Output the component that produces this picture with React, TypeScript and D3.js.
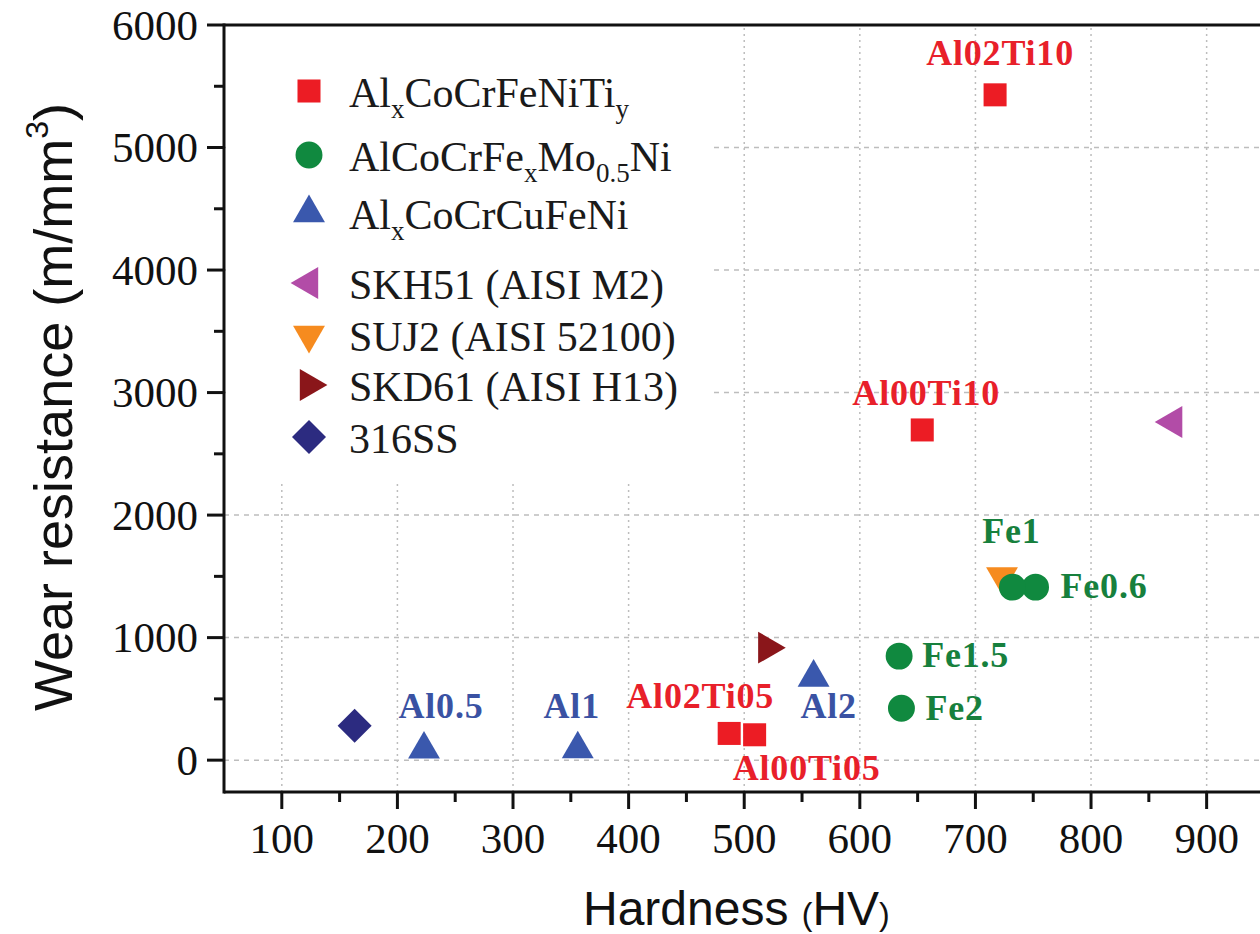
import React from 'react';
import * as d3 from 'd3';

// canvas
const width = 1260;
const height = 934;

// plot frame
const plotLeft = 224;
const plotRight = 1276; // runs off the right edge like the original crop
const plotTop = 25;
const plotBottom = 792;

// fonts
const serif = '"Liberation Serif", "Times New Roman", serif';
const sans = '"Liberation Sans", Arial, sans-serif';

// axis ticks
const xTicks = [100, 200, 300, 400, 500, 600, 700, 800, 900];
const xMinorTicks = [150, 250, 350, 450, 550, 650, 750, 850, 950];
const yTicks = [0, 1000, 2000, 3000, 4000, 5000, 6000];
const yMinorTicks = [500, 1500, 2500, 3500, 4500, 5500];

// AlxCoCrFeNiTiy
const tiyNames = ['Al02Ti10', 'Al00Ti10', 'Al02Ti05', 'Al00Ti05'];
const tiyHardness = [717, 654, 487, 509];
const tiyWear = [5430, 2695, 218, 207];

// AlCoCrFexMo0.5Ni
const feNames = ['Fe0.6', 'Fe1', 'Fe1.5', 'Fe2'];
const feHardness = [752, 732, 634, 636];
const feWear = [1412, 1412, 849, 424];

// AlxCoCrCuFeNi
const cuNames = ['Al0.5', 'Al1', 'Al2'];
const cuHardness = [223, 356, 560];
const cuWear = [88, 90, 675];

// reference steels
const skh51Hardness = [871];
const skh51Wear = [2760];
const suj2Hardness = [723];
const suj2Wear = [1500];
const skd61Hardness = [520];
const skd61Wear = [918];
const ss316Hardness = [163];
const ss316Wear = [280];

// label offsets (px from the point) and anchors
const tiyLabelPos = [[5, -30, 'middle'], [4, -25, 'middle'], [-29, -25, 'middle'], [52, 45, 'middle']];
const feLabelPos = [[25, 11, 'start'], [-1, -44, 'middle'], [23, 11, 'start'], [24, 12, 'start']];
const cuLabelPos = [[17, -31, 'middle'], [-6, -31, 'middle'], [15, 41, 'middle']];

// colours
const red = '#ec1c24';
const green = '#10893f';
const blue = '#3a58ad';
const magenta = '#b24ca7';
const orange = '#f68b1f';
const darkRed = '#8a161a';
const navy = '#2c2b80';
const gridColor = '#bdbdbd';

const x = d3.scaleLinear().domain([50, 960]).range([plotLeft, plotRight]);
const y = d3.scaleLinear().domain([-260, 6000]).range([plotBottom, plotTop]);

// markers
const squarePath = d3.symbol().type(d3.symbolSquare).size(530)();
const circlePath = d3.symbol().type(d3.symbolCircle).size(570)();
const trianglePath = d3.symbol().type(d3.symbolTriangle).size(440)();
const diamondPath = d3.symbol().type(d3.symbolSquare).size(580)();

type Shape = { d: string; rot: number; color: string };
const shapes: Record<string, Shape> = {
  tiy: { d: squarePath, rot: 0, color: red },
  fe: { d: circlePath, rot: 0, color: green },
  cu: { d: trianglePath, rot: 0, color: blue },
  skh: { d: trianglePath, rot: -90, color: magenta },
  suj: { d: trianglePath, rot: 180, color: orange },
  skd: { d: trianglePath, rot: 90, color: darkRed },
  ss: { d: diamondPath, rot: 45, color: navy },
};

const Marker = ({ shape, cx, cy }: { shape: Shape; cx: number; cy: number }) => (
  <path d={shape.d} fill={shape.color} transform={`translate(${cx},${cy}) rotate(${shape.rot})`} />
);

// legend rows: [shape key, text parts (text, subscript?)]
const legendRows: [string, [string, boolean][]][] = [
  ['tiy', [['Al', false], ['x', true], ['CoCrFeNiTi', false], ['y', true]]],
  ['fe', [['AlCoCrFe', false], ['x', true], ['Mo', false], ['0.5', true], ['Ni', false]]],
  ['cu', [['Al', false], ['x', true], ['CoCrCuFeNi', false]]],
  ['skh', [['SKH51 (AISI M2)', false]]],
  ['suj', [['SUJ2 (AISI 52100)', false]]],
  ['skd', [['SKD61 (AISI H13)', false]]],
  ['ss', [['316SS', false]]],
];
const legendY = [91, 155, 213, 283, 335, 385, 437];

const Points = ({ hx, wy, shape }: { hx: number[]; wy: number[]; shape: Shape }) => (
  <g>
    {hx.map((h, i) => (
      <Marker key={i} shape={shape} cx={x(h)} cy={y(wy[i])} />
    ))}
  </g>
);

const Labels = ({ names, hx, wy, pos, color }: any) => (
  <g fontFamily={serif} fontWeight="bold" fontSize={36} letterSpacing={0.8} fill={color}>
    {names.map((n: string, i: number) => (
      <text key={n} x={x(hx[i]) + pos[i][0]} y={y(wy[i]) + pos[i][1]} textAnchor={pos[i][2]}>
        {n}
      </text>
    ))}
  </g>
);

const App = () => (
  <svg
    width={width}
    height={height}
    style={{ position: 'absolute', left: 0, top: 0, background: '#fff' }}
  >
    <rect width={width} height={height} fill="#fff" />

    {/* grid */}
    <g stroke={gridColor} strokeWidth={1.5}>
      {xTicks.map((t) => (
        <line key={t} x1={x(t)} x2={x(t)} y1={plotBottom} y2={plotTop} strokeDasharray="2 4" />
      ))}
      {yTicks.slice(0, -1).map((t) => (
        <line key={t} x1={plotLeft} x2={plotRight} y1={y(t)} y2={y(t)} strokeDasharray="5 5" />
      ))}
    </g>

    {/* legend box hides the grid behind it */}
    <rect x={plotLeft + 2} y={plotTop + 2} width={488} height={453} fill="#fff" />
    <g>
      {legendRows.map(([key, parts], i) => (
        <g key={key}>
          <Marker shape={shapes[key]} cx={309} cy={legendY[i]} />
          <text x={349} y={legendY[i] + 16} fontFamily={serif} fontSize={42} fill="#1a1a1a">
            {parts.map(([t, sub], j) => {
              const prevSub = j > 0 && parts[j - 1][1];
              const dy = sub ? 11 : prevSub ? -11 : 0;
              return (
                <tspan key={j} dy={dy} fontSize={sub ? 27 : 42}>
                  {t}
                </tspan>
              );
            })}
          </text>
        </g>
      ))}
    </g>

    {/* data, later series on top */}
    <Points hx={tiyHardness} wy={tiyWear} shape={shapes.tiy} />
    <Points hx={cuHardness} wy={cuWear} shape={shapes.cu} />
    <Points hx={skh51Hardness} wy={skh51Wear} shape={shapes.skh} />
    <Points hx={suj2Hardness} wy={suj2Wear} shape={shapes.suj} />
    <Points hx={feHardness} wy={feWear} shape={shapes.fe} />
    <Points hx={skd61Hardness} wy={skd61Wear} shape={shapes.skd} />
    <Points hx={ss316Hardness} wy={ss316Wear} shape={shapes.ss} />

    <Labels names={tiyNames} hx={tiyHardness} wy={tiyWear} pos={tiyLabelPos} color="#e8202a" />
    <Labels names={feNames} hx={feHardness} wy={feWear} pos={feLabelPos} color="#17803d" />
    <Labels names={cuNames} hx={cuHardness} wy={cuWear} pos={cuLabelPos} color="#3a52a3" />

    {/* axes */}
    <g stroke="#111" strokeWidth={3}>
      <line x1={plotLeft} x2={plotRight} y1={plotBottom} y2={plotBottom} />
      <line x1={plotLeft} x2={plotRight} y1={plotTop} y2={plotTop} />
      <line x1={plotLeft} x2={plotLeft} y1={plotTop - 1.5} y2={plotBottom + 1.5} />
      {xTicks.map((t) => (
        <line key={t} x1={x(t)} x2={x(t)} y1={plotBottom} y2={plotBottom + 17} />
      ))}
      {xMinorTicks.map((t) => (
        <line key={t} x1={x(t)} x2={x(t)} y1={plotBottom} y2={plotBottom + 10} />
      ))}
      {yTicks.map((t) => (
        <line key={t} x1={plotLeft} x2={plotLeft - 17} y1={y(t)} y2={y(t)} />
      ))}
      {yMinorTicks.map((t) => (
        <line key={t} x1={plotLeft} x2={plotLeft - 10} y1={y(t)} y2={y(t)} />
      ))}
    </g>

    <g fontFamily={serif} fontSize={43} fill="#111">
      {xTicks.map((t) => (
        <text key={t} x={x(t)} y={853} textAnchor="middle">
          {t}
        </text>
      ))}
      {yTicks.map((t) => (
        <text key={t} x={plotLeft - 26} y={y(t)} dy="0.34em" textAnchor="end">
          {t}
        </text>
      ))}
    </g>

    {/* axis titles */}
    <text x={583} y={925} fontFamily={sans} fontSize={48} fill="#111">
      Hardness <tspan fontSize={32}>(</tspan>HV<tspan fontSize={32}>)</tspan>
    </text>
    <text
      transform={`translate(72,${(97 + 717) / 2}) rotate(-90)`}
      textAnchor="middle"
      fontFamily={sans}
      fontSize={54}
      fill="#111"
    >
      Wear resistance (m/mm<tspan fontSize={32} dy={-24}>3</tspan>
      <tspan dy={24}>)</tspan>
    </text>
  </svg>
);

export default App;
